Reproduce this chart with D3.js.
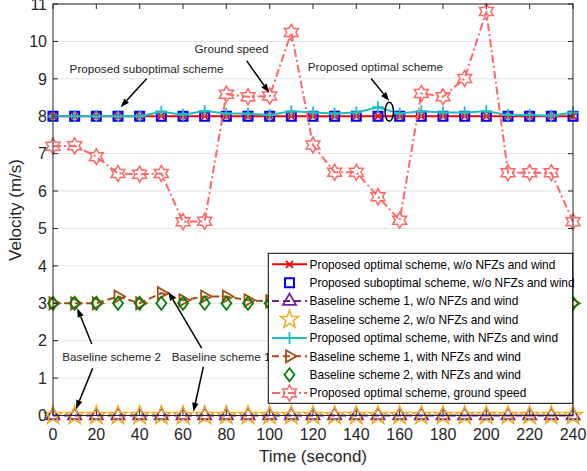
<!DOCTYPE html>
<html><head><meta charset="utf-8">
<script src="https://cdn.jsdelivr.net/npm/d3@7"></script>
<style>body{margin:0;background:#fff}svg{display:block;font-family:"Liberation Sans",Arial,sans-serif}</style>
</head><body><svg id="c" width="587" height="471"></svg>
<script>
const time = [0,10,20,30,40,50,60,70,80,90,100,110,120,130,140,150,160,170,180,190,200,210,220,230,240];
const optNo = time.map(()=>8);
const subNo = time.map(()=>8);
const base1No = time.map(()=>0);
const base2No = time.map(()=>0);
const optWith = [8,8,8,8,8,8.12,8.04,8.14,8.07,8.07,8.03,8.13,8.1,8.07,8.1,8.24,8.07,8.13,8.1,8.1,8.13,8.03,8.03,8.01,8.1];
const base1With = [3,3,3,3.18,3,3.27,3.08,3.18,3.18,3.08,3.05,3.1,3.05,3.1,3.05,3.12,3.05,3.1,3.05,3.1,3.05,3.05,3.02,3.0,3.0];
const base2With = time.map(()=>3);
const ground = [7.2,7.21,6.92,6.47,6.45,6.47,5.18,5.19,8.59,8.52,8.54,10.24,7.23,6.5,6.5,5.85,5.22,8.61,8.52,9.01,10.8,6.49,6.49,6.49,5.18];
const xTicks = [0,20,40,60,80,100,120,140,160,180,200,220,240];
const yTicks = [0,1,2,3,4,5,6,7,8,9,10,11];
const legendLabels = ["Proposed optimal scheme, w/o NFZs and wind","Proposed suboptimal scheme, w/o NFZs and wind","Baseline scheme 1, w/o NFZs and wind","Baseline scheme 2, w/o NFZs and wind","Proposed optimal scheme, with NFZs and wind","Baseline scheme 1, with NFZs and wind","Baseline scheme 2, with NFZs and wind","Proposed optimal scheme, ground speed"];
const annoTexts = [
  {t:"Proposed suboptimal scheme", x:43.2, y:9.26, anchor:"middle"},
  {t:"Ground speed", x:82.4, y:9.80, anchor:"middle"},
  {t:"Proposed optimal scheme", x:148.8, y:9.32, anchor:"middle"},
  {t:"Baseline scheme 2", x:27.1, y:1.56, anchor:"middle"},
  {t:"Baseline scheme 1", x:54.8, y:1.57, anchor:"start"}
];
const arrows = [
  [43.2,9.0,31.2,8.24],[89.4,9.48,99.8,8.63],[146.8,9.01,155.2,8.41],
  [17.9,1.91,11.2,2.87],[18.3,1.26,10.6,0.17],[68.6,1.80,53.2,3.31],[69.4,1.30,64.8,0.10]
];
const ellipseAt = {x:155.2, y:8.12};

const series = [
  {v:optNo, color:"#ff0000", line:true, dash:null, marker:"x", lw:2},
  {v:subNo, color:"#0000ff", line:false, marker:"square"},
  {v:base1No, color:"#7020a0", line:true, dash:"7,4", marker:"triangle", lw:2},
  {v:base2No, color:"#eeac1e", line:false, marker:"pentagram"},
  {v:optWith, color:"#1cbfbf", line:true, dash:null, marker:"plus", lw:2},
  {v:base1With, color:"#a64b14", line:true, dash:"7,4", marker:"rtriangle", lw:2},
  {v:base2With, color:"#008000", line:false, marker:"diamond"},
  {v:ground, color:"#ff6666", line:true, dash:"8,3,2,3", marker:"hexagram", lw:2}
];

const svg = d3.select("#c");
const x = d3.scaleLinear().domain([0,240]).range([53,573]);
const y = d3.scaleLinear().domain([0,11]).range([415.5,4]);
const axisColor = "#262626";

svg.append("g").selectAll("line").data(yTicks).join("line")
  .attr("x1",x(0)).attr("x2",x(240)).attr("y1",d=>y(d)).attr("y2",d=>y(d))
  .attr("stroke","#e3e3e3").attr("stroke-width",1);

function starPts(n, R, r){
  const p=[];
  for(let i=0;i<2*n;i++){
    const a = -Math.PI/2 + i*Math.PI/n;
    const rr = i%2===0?R:r;
    p.push([rr*Math.cos(a), rr*Math.sin(a)]);
  }
  return "M"+p.map(q=>q[0].toFixed(2)+","+q[1].toFixed(2)).join("L")+"Z";
}
function markerPath(m){
  switch(m){
    case "x": {const s=3.5; return `M${-s},${-s}L${s},${s}M${-s},${s}L${s},${-s}`;}
    case "square": {const s=4.5; return `M${-s},${-s}H${s}V${s}H${-s}Z`;}
    case "triangle": {const r=7.5; return `M0,${-r}L${r*0.866},${r*0.5}L${-r*0.866},${r*0.5}Z`;}
    case "rtriangle": {const r=7; return `M${r},0L${-r*0.5},${r*0.866}L${-r*0.5},${-r*0.866}Z`;}
    case "pentagram": return starPts(5, 9.6, 3.8);
    case "plus": {const s=6; return `M${-s},0H${s}M0,${-s}V${s}`;}
    case "diamond": return "M0,-6.5L5,0L0,6.5L-5,0Z";
    case "hexagram": return starPts(6, 8, 4.6);
  }
}
function markerWidth(m){ return m==="square"?2:(m==="pentagram"||m==="hexagram"?1.5:1.8); }

const plot = svg.append("g");
series.forEach(s=>{
  const g = plot.append("g");
  if(s.line){
    g.append("path").datum(s.v)
      .attr("d", d3.line().x((d,i)=>x(time[i])).y(d=>y(d)))
      .attr("fill","none").attr("stroke",s.color).attr("stroke-width",s.lw)
      .attr("stroke-dasharray",s.dash);
  }
  g.selectAll("path.m").data(s.v).join("path").attr("class","m")
    .attr("transform",(d,i)=>`translate(${x(time[i])},${y(d)})`)
    .attr("d",markerPath(s.marker)).attr("fill","none")
    .attr("stroke",s.color).attr("stroke-width",markerWidth(s.marker));
});

const g = svg.append("g");
g.append("rect").attr("x",x(0)).attr("y",y(11)).attr("width",x(240)-x(0)).attr("height",y(0)-y(11))
  .attr("fill","none").attr("stroke",axisColor).attr("stroke-width",1);
const tl=5;
xTicks.forEach(t=>{
  g.append("line").attr("x1",x(t)).attr("x2",x(t)).attr("y1",y(0)).attr("y2",y(0)-tl).attr("stroke",axisColor);
  g.append("line").attr("x1",x(t)).attr("x2",x(t)).attr("y1",y(11)).attr("y2",y(11)+tl).attr("stroke",axisColor);
  g.append("text").attr("x",x(t)).attr("y",y(0)+24).attr("text-anchor","middle")
    .attr("font-size",16).attr("fill",axisColor).text(t);
});
yTicks.forEach(t=>{
  g.append("line").attr("x1",x(0)).attr("x2",x(0)+tl).attr("y1",y(t)).attr("y2",y(t)).attr("stroke",axisColor);
  g.append("line").attr("x1",x(240)).attr("x2",x(240)-tl).attr("y1",y(t)).attr("y2",y(t)).attr("stroke",axisColor);
  g.append("text").attr("x",x(0)-6).attr("y",y(t)).attr("dy","0.36em").attr("text-anchor","end")
    .attr("font-size",16).attr("fill",axisColor).text(t);
});
g.append("text").attr("x",313).attr("y",462).attr("text-anchor","middle").attr("font-size",17)
  .attr("fill",axisColor).text("Time (second)");
g.append("text").attr("transform","translate(21,210) rotate(-90)").attr("text-anchor","middle")
  .attr("font-size",17).attr("fill",axisColor).text("Velocity (m/s)");

const ann = svg.append("g");
annoTexts.forEach(a=>{
  ann.append("text").attr("x",x(a.x)).attr("y",y(a.y)).attr("dy","0.36em")
    .attr("text-anchor",a.anchor).attr("font-size",11.7).attr("fill","#262626").text(a.t);
});
arrows.forEach(a=>{
  const x1=x(a[0]),y1=y(a[1]),x2=x(a[2]),y2=y(a[3]);
  const ang=Math.atan2(y2-y1,x2-x1), L=9, Wd=3.2;
  const bx=x2-L*Math.cos(ang), by=y2-L*Math.sin(ang);
  ann.append("line").attr("x1",x1).attr("y1",y1).attr("x2",bx).attr("y2",by).attr("stroke","#000").attr("stroke-width",1.5);
  const px=-Math.sin(ang), py=Math.cos(ang);
  ann.append("path").attr("d",`M${x2},${y2}L${bx+Wd*px},${by+Wd*py}L${bx-Wd*px},${by-Wd*py}Z`).attr("fill","#000");
});
ann.append("ellipse").attr("cx",x(ellipseAt.x)).attr("cy",y(ellipseAt.y)).attr("rx",4.2).attr("ry",9.5)
  .attr("fill","none").attr("stroke","#000").attr("stroke-width",1.5);

const lg = svg.append("g");
const lx=268.3, ly=253.3, lw=304.4, lh=150;
lg.append("rect").attr("x",lx).attr("y",ly).attr("width",lw).attr("height",lh)
  .attr("fill","#fff").attr("stroke","#000").attr("stroke-width",1);
series.forEach((s,i)=>{
  const cy = 264.3 + i*18.4;
  if(s.line){
    lg.append("line").attr("x1",272).attr("x2",307).attr("y1",cy).attr("y2",cy)
      .attr("stroke",s.color).attr("stroke-width",s.lw).attr("stroke-dasharray",s.dash);
  }
  lg.append("path").attr("transform",`translate(289.5,${cy})`).attr("d",markerPath(s.marker))
    .attr("fill","none").attr("stroke",s.color).attr("stroke-width",markerWidth(s.marker));
  lg.append("text").attr("x",309.5).attr("y",cy).attr("dy","0.36em").attr("font-size",11.9)
    .attr("fill","#000").text(legendLabels[i]);
});
</script></body></html>
